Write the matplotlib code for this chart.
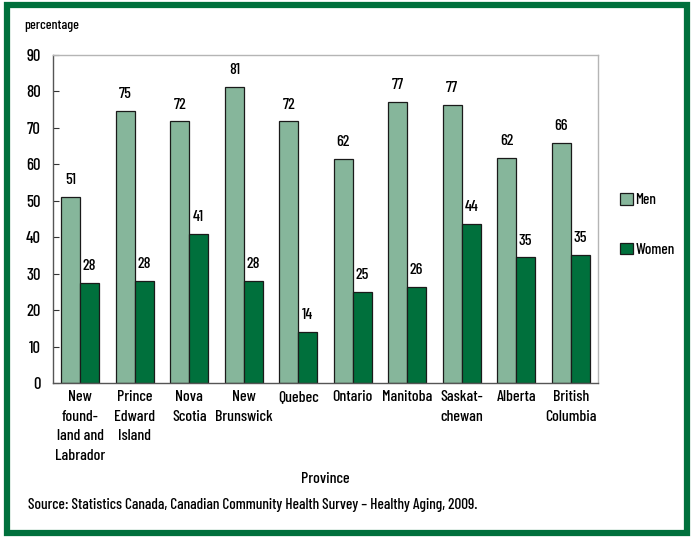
import numpy as np
import matplotlib.pyplot as plt
from matplotlib.patches import Rectangle

plt.rcParams['font.family'] = ['Barlow Condensed', 'DejaVu Sans']
plt.rcParams['font.weight'] = 'medium'
plt.rcParams['axes.labelweight'] = 'medium'

# Data
provinces = ['New\nfound-\nland and\nLabrador', 'Prince\nEdward\nIsland', 'Nova\nScotia',
             'New\nBrunswick', 'Quebec', 'Ontario', 'Manitoba', 'Saskat-\nchewan',
             'Alberta', 'British\nColumbia']
men = [51.1, 74.6, 71.8, 81.2, 71.8, 61.5, 77.1, 76.3, 61.8, 65.9]
women = [27.5, 28.0, 41.0, 28.0, 14.0, 25.0, 26.4, 43.6, 34.5, 35.2]
men_labels = ['51', '75', '72', '81', '72', '62', '77', '77', '62', '66']
women_labels = ['28', '28', '41', '28', '14', '25', '26', '44', '35', '35']

men_color = '#86b69b'
women_color = '#00703c'

fig = plt.figure(figsize=(6.94, 5.38), dpi=100)
ax = fig.add_axes([0.0764, 0.288, 0.7853, 0.6098])

x = np.arange(len(provinces))
w = 0.345
b1 = ax.bar(x - w / 2, men, w, color=men_color, edgecolor='#1a1a1a', linewidth=0.9, label='Men')
b2 = ax.bar(x + w / 2, women, w, color=women_color, edgecolor='#1a1a1a', linewidth=0.9, label='Women')

for bars, labs in ((b1, men_labels), (b2, women_labels)):
    for r, t in zip(bars, labs):
        ax.annotate(t, (r.get_x() + r.get_width() / 2, r.get_height()),
                    xytext=(0, 7), textcoords='offset points',
                    ha='center', va='bottom', fontsize=11.5)

ax.set_xlim(-0.5, len(provinces) - 0.5)
ax.set_ylim(0, 90)
ax.set_yticks(range(0, 91, 10))
ax.set_xticks(x)
ax.set_xticklabels(provinces, fontsize=11.5, linespacing=1.5)
ax.tick_params(axis='y', direction='in', length=4.5, labelsize=12, pad=9, color='#333333')
ax.tick_params(axis='x', length=0, pad=5)

for s in ('left', 'bottom'):
    ax.spines[s].set_color('#555555')
    ax.spines[s].set_linewidth(1.0)
for s in ('top', 'right'):
    ax.spines[s].set_color('#b5b5b5')
    ax.spines[s].set_linewidth(1.0)

ax.set_xlabel('Province', fontsize=11.5, labelpad=7)

fig.text(0.035, 0.951, 'percentage', fontsize=10, va='center', ha='left')
fig.text(0.040, 0.061, 'Source: Statistics Canada, Canadian Community Health Survey \u2013 Healthy Aging, 2009.',
         fontsize=11, va='center', ha='left')

fig.legend(handles=[b1, b2], loc='upper left', bbox_to_anchor=(0.885, 0.652),
           frameon=False, fontsize=11, handlelength=0.8, handleheight=0.8,
           handletextpad=0.2, labelspacing=2.3, borderaxespad=0)

# green frame around the figure
fig.patches.append(Rectangle((0.0095, 0.0095), 0.981, 0.981, transform=fig.transFigure,
                             fill=False, edgecolor='#00703c', linewidth=4.5))

fig.savefig('out.png', dpi=100)
